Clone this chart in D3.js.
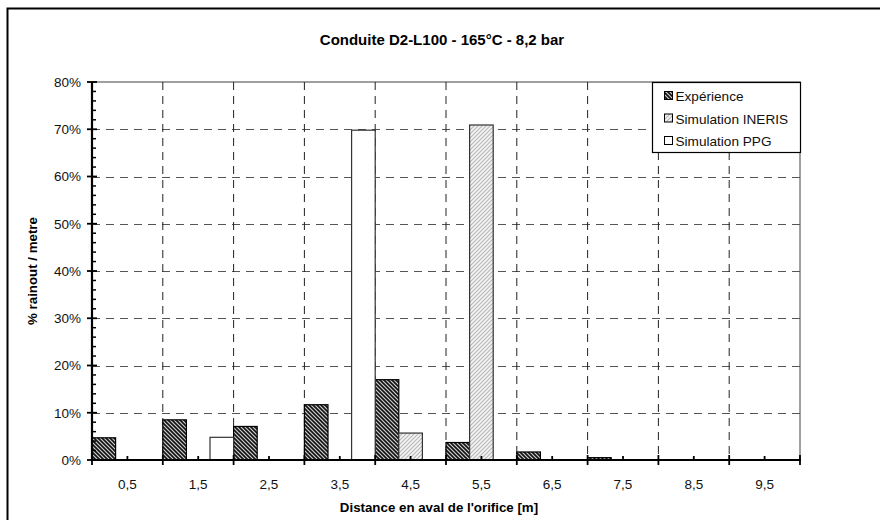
<!DOCTYPE html>
<html><head><meta charset="utf-8">
<script src="https://cdn.jsdelivr.net/npm/d3@7"></script>
<style>body{margin:0;background:#fff}svg{display:block;font-family:"Liberation Sans",Arial,sans-serif}</style>
</head><body><svg id="c" width="880" height="520"></svg>
<script>
const categories = ["0,5","1,5","2,5","3,5","4,5","5,5","6,5","7,5","8,5","9,5"];
const experience = [4.7, 8.5, 7.1, 11.7, 17.0, 3.7, 1.7, 0.5, 0, 0];
const ineris      = [0, 0, 0, 0, 5.7, 70.9, 0, 0, 0, 0];
const ppg         = [0, 4.8, 0, 69.8, 0, 0, 0, 0, 0, 0];
const seriesNames = ["Expérience","Simulation INERIS","Simulation PPG"];
const yTicks = [0,10,20,30,40,50,60,70,80];

const svg = d3.select("#c");
const defs = svg.append("defs");
// dark hatch
const p1 = defs.append("pattern").attr("id","pExp").attr("patternUnits","userSpaceOnUse").attr("width",4).attr("height",4);
p1.append("rect").attr("width",4).attr("height",4).attr("fill","#8a8a8a");
p1.append("path").attr("d","M0,0 L4,4 M-1,3 L1,5 M3,-1 L5,1").attr("stroke","#111").attr("stroke-width",1.4);
p1.append("path").attr("d","M2,0 L4,2 M0,2 L2,4").attr("stroke","#eee").attr("stroke-width",0.6);
// light hatch
const p2 = defs.append("pattern").attr("id","pIne").attr("patternUnits","userSpaceOnUse").attr("width",4).attr("height",4);
p2.append("rect").attr("width",4).attr("height",4).attr("fill","#f4f4f4");
p2.append("path").attr("d","M0,4 L4,0 M-1,1 L1,-1 M3,5 L5,3").attr("stroke","#b8b8b8").attr("stroke-width",1.1);

const fills = ["url(#pExp)","url(#pIne)","#ffffff"];
const strokes = ["#000","#333","#333"];

// chart border
svg.append("rect").attr("x",7.5).attr("y",8.5).attr("width",900).attr("height",600)
  .attr("fill","none").attr("stroke","#000").attr("stroke-width",2);

const L=92, R=800, T=82, B=460;
const x = d3.scaleBand().domain(categories).range([L,R]).padding(0);
const xs = d3.scaleBand().domain(seriesNames).range([0,x.bandwidth()]).padding(0);
const y = d3.scaleLinear().domain([0,80]).range([B,T]);

// plot border
svg.append("rect").attr("x",L).attr("y",T).attr("width",R-L).attr("height",B-T)
  .attr("fill","none").attr("stroke","#808080").attr("stroke-width",1.5);

// horizontal grid
svg.append("g").selectAll("line").data(yTicks.filter(d=>d>0&&d<80)).join("line")
  .attr("x1",L).attr("x2",R).attr("y1",d=>Math.round(y(d))+0.5).attr("y2",d=>Math.round(y(d))+0.5)
  .attr("stroke","#555").attr("stroke-width",1).attr("stroke-dasharray","8,6");
// vertical grid
svg.append("g").selectAll("line").data(categories.slice(1)).join("line")
  .attr("x1",d=>x(d)).attr("x2",d=>x(d)).attr("y1",T).attr("y2",B)
  .attr("stroke","#222").attr("stroke-width",1).attr("stroke-dasharray","8,6");

// bars
const series = [experience, ineris, ppg];
series.forEach((vals,si)=>{
  svg.append("g").selectAll("rect").data(vals.map((v,i)=>({v,c:categories[i]})).filter(d=>d.v>0)).join("rect")
    .attr("x",d=>x(d.c)+xs(seriesNames[si]))
    .attr("y",d=>y(d.v))
    .attr("width",xs.bandwidth())
    .attr("height",d=>B-y(d.v))
    .attr("fill",fills[si]).attr("stroke",strokes[si]).attr("stroke-width",1.2);
});

// y axis
const yAxis = svg.append("g");
yAxis.append("line").attr("x1",L).attr("x2",L).attr("y1",T).attr("y2",B+1).attr("stroke","#000").attr("stroke-width",2.2);
yAxis.selectAll(".mt").data(d3.range(0,81,2).filter(d=>d%10!==0)).join("line")
  .attr("x1",L).attr("x2",L+4).attr("y1",d=>y(d)).attr("y2",d=>y(d)).attr("stroke","#000").attr("stroke-width",1.5);
yAxis.selectAll(".Mt").data(yTicks).join("line")
  .attr("x1",L-5).attr("x2",L+5).attr("y1",d=>y(d)).attr("y2",d=>y(d)).attr("stroke","#000").attr("stroke-width",1.8);
yAxis.selectAll("text").data(yTicks).join("text")
  .attr("x",L-11).attr("y",d=>y(d)+4.8).attr("text-anchor","end").attr("font-size",13.5).attr("fill","#111")
  .text(d=>d+"%");

// x axis
const xAxis = svg.append("g");
xAxis.append("line").attr("x1",L-1).attr("x2",R+1).attr("y1",B).attr("y2",B).attr("stroke","#000").attr("stroke-width",2.2);
const bounds = categories.map(c=>x(c)).concat([R]);
xAxis.selectAll(".Mt").data(bounds).join("line")
  .attr("x1",d=>d).attr("x2",d=>d).attr("y1",B-5).attr("y2",B+5).attr("stroke","#000").attr("stroke-width",1.8);
xAxis.selectAll(".mt").data(categories).join("line")
  .attr("x1",d=>x(d)+x.bandwidth()/2).attr("x2",d=>x(d)+x.bandwidth()/2).attr("y1",B-4).attr("y2",B).attr("stroke","#000").attr("stroke-width",1.8);
xAxis.selectAll("text").data(categories).join("text")
  .attr("x",d=>x(d)+x.bandwidth()/2).attr("y",B+29).attr("text-anchor","middle").attr("font-size",13.5).attr("fill","#111")
  .text(d=>d);

// titles
svg.append("text").attr("x",442).attr("y",45).attr("text-anchor","middle").attr("font-size",15).attr("font-weight","bold")
  .text("Conduite D2-L100 - 165°C - 8,2 bar");
svg.append("text").attr("x",439).attr("y",512).attr("text-anchor","middle").attr("font-size",13.3).attr("font-weight","bold")
  .text("Distance en aval de l'orifice [m]");
svg.append("text").attr("transform","translate(37,"+((T+B)/2)+") rotate(-90)").attr("text-anchor","middle").attr("font-size",13.3).attr("font-weight","bold")
  .text("% rainout / metre");

// legend
const lg = svg.append("g");
lg.append("rect").attr("x",652.5).attr("y",82.5).attr("width",148).attr("height",70).attr("fill","#fff").attr("stroke","#000").attr("stroke-width",1.2);
seriesNames.forEach((n,i)=>{
  const yy = 96 + i*22.5;
  lg.append("rect").attr("x",664.5).attr("y",yy-4.5).attr("width",8).attr("height",8).attr("fill",fills[i]).attr("stroke","#000").attr("stroke-width",1);
  lg.append("text").attr("x",675.5).attr("y",yy+5).attr("font-size",13.6).attr("fill","#111").text(n);
});
</script></body></html>
